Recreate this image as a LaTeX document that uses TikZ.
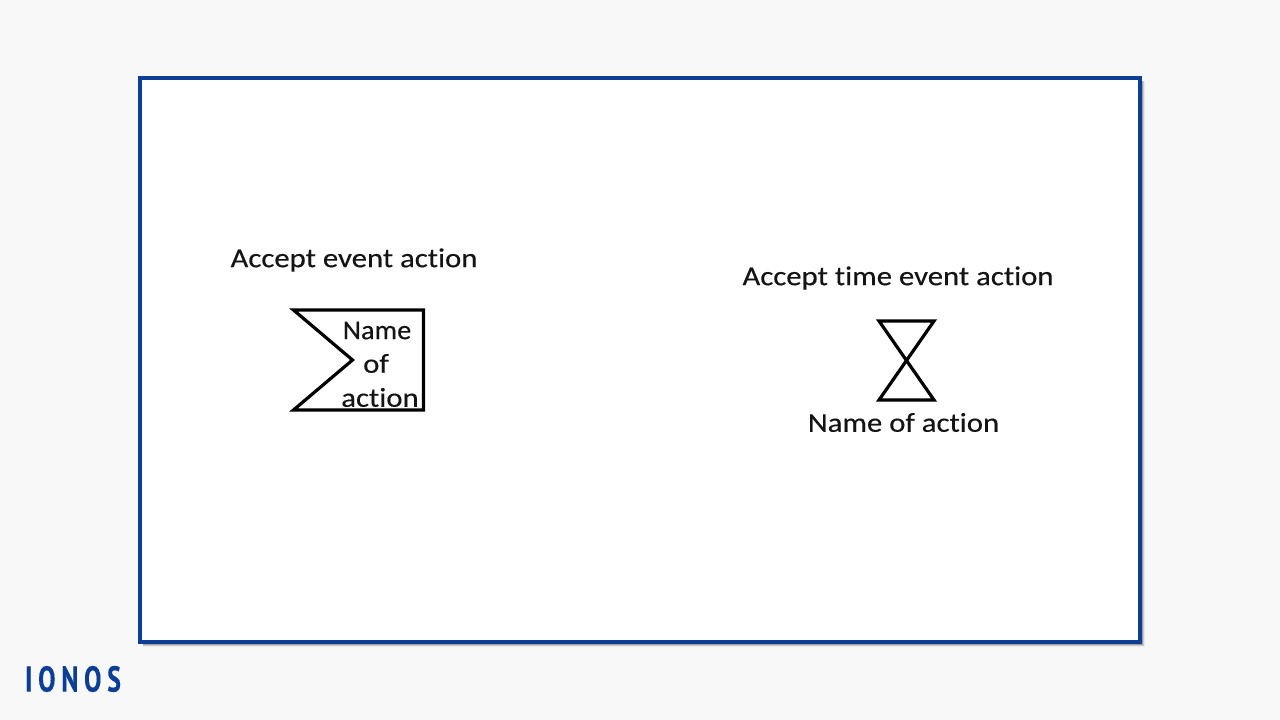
\documentclass[tikz,border=0pt]{standalone}
\usepackage{fontspec}
\setmainfont[FakeBold=0.3,FakeStretch=1.13,Ligatures=NoCommon]{Carlito}
\newfontfamily\logofont[LetterSpace=16,FakeStretch=0.72,FakeBold=0.2]{PT Sans}
\definecolor{ionos}{HTML}{0B3E96}
\definecolor{pagebg}{HTML}{F8F8F8}
\tikzset{
  px/.style={x=0.75pt,y=-0.75pt},
  label/.style={inner sep=0pt,anchor=center,text=black!92,font=\fontsize{20.4pt}{24pt}\selectfont},
  symbol/.style={draw=black,line width=2.4pt,line join=miter},
}
\begin{document}
\begin{tikzpicture}[px]
\useasboundingbox (0,0) rectangle (1280,720);
\fill[pagebg] (0,0) rectangle (1280,720);
\fill[black!8] (143,81) rectangle (1145,647);
\fill[black!20] (143,81) rectangle (1144,646);
\fill[black!38] (143,81) rectangle (1143,645);
\fill[white,draw=ionos,line width=3pt] (139.5,78) rectangle (1140,642);
\node[label] (a) at (354,260) {Accept event action};
\draw[symbol] (293.5,310) -- (423.5,310) -- (423.5,410) -- (293.5,410) -- (352.5,360) -- cycle;
\node[label,xscale=0.92] (n1) at (377,330.5) {Name};
\node[label] (n2) at (376,363.5) {of};
\node[label] (n3) at (380,397.5) {action};
\node[label] (b) at (898,278) {Accept time event action};
\draw[symbol] (879,321) -- (934,321) -- (879,400) -- (934,400) -- cycle;
\node[label] (c) at (903.5,422.5) {Name of action};
\node[inner sep=0pt,text=ionos,font=\logofont\bfseries\fontsize{27pt}{29pt}\selectfont] (logo) at (73,679) {IONOS};
\end{tikzpicture}
\end{document}
